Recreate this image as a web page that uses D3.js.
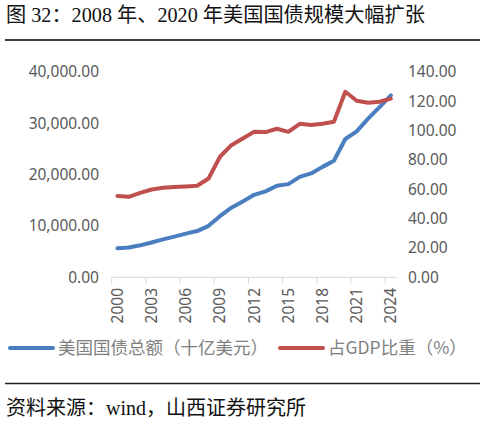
<!DOCTYPE html>
<html>
<head>
<meta charset="utf-8">
<script src="https://cdn.jsdelivr.net/npm/d3@7"></script>
<style>
  body { margin: 0; background: #fff; }
  svg { display: block; }
</style>
</head>
<body>
<div id="chart"></div>
<script>
const width = 485;
const height = 425;

// data
const years = d3.range(2000, 2025);
const debtTotal = [5674, 5807, 6228, 6783, 7379, 7933, 8507, 9008, 10025, 11910,
  13562, 14790, 16066, 16738, 17824, 18151, 19573, 20245, 21516, 22719,
  26945, 28428, 30928, 33167, 35464];
const debtToGdp = [55.5, 54.9, 57.6, 59.9, 61.0, 61.5, 61.9, 62.4, 67.4, 82.2,
  90.1, 94.7, 99.2, 99.0, 101.3, 99.2, 104.7, 103.8, 104.7, 106.1,
  126.5, 120.4, 119.0, 119.7, 121.8];
const leftTicks = [0, 10000, 20000, 30000, 40000];
const rightTicks = [0, 20, 40, 60, 80, 100, 120, 140];
const tickYears = [2000, 2003, 2006, 2009, 2012, 2015, 2018, 2021, 2024];
const seriesNames = ["美国国债总额（十亿美元）", "占GDP比重（%）"];

const blue = "#4A7EC0";
const red = "#C0504D";
const labelColor = "#595959";
const serif = "'Liberation Serif', 'Noto Sans CJK SC', serif";
const sans = "'Noto Sans', 'Noto Sans CJK SC', sans-serif";
const cjk = "'Noto Sans CJK SC', sans-serif";

const svg = d3.select("#chart")
  .append("svg")
  .attr("width", width)
  .attr("height", height);

// title + rule
svg.append("text")
  .attr("x", 6)
  .attr("y", 22)
  .attr("font-family", serif)
  .attr("font-size", 20.2)
  .attr("fill", "#111")
  .text("图 32：2008 年、2020 年美国国债规模大幅扩张");

svg.append("line")
  .attr("x1", 5).attr("x2", 480)
  .attr("y1", 40).attr("y2", 40)
  .attr("stroke", "#404040")
  .attr("stroke-width", 2);

const x = d3.scaleBand()
  .domain(years)
  .range([111.7, 396.6]);

const yLeft = d3.scaleLinear()
  .domain([0, 40000])
  .range([277.3, 72]);

const yRight = d3.scaleLinear()
  .domain([0, 140])
  .range([277.3, 72]);

const fmtLeft = d3.format(",.2f");
const fmtRight = d3.format(".2f");

// left axis labels
svg.append("g")
  .selectAll("text")
  .data(leftTicks)
  .enter()
  .append("text")
  .attr("x", 99)
  .attr("y", d => yLeft(d))
  .attr("dy", "0.35em")
  .attr("text-anchor", "end")
  .attr("font-family", sans)
  .attr("font-size", 15.5)
  .attr("fill", labelColor)
  .text(d => fmtLeft(d));

// right axis labels
svg.append("g")
  .selectAll("text")
  .data(rightTicks)
  .enter()
  .append("text")
  .attr("x", 408)
  .attr("y", d => yRight(d))
  .attr("dy", "0.35em")
  .attr("text-anchor", "start")
  .attr("font-family", sans)
  .attr("font-size", 15.5)
  .attr("fill", labelColor)
  .text(d => fmtRight(d));

// x axis
const xAxis = svg.append("g");
xAxis.append("line")
  .attr("x1", x.range()[0]).attr("x2", x.range()[1])
  .attr("y1", 277.3).attr("y2", 277.3)
  .attr("stroke", "#d9d9d9")
  .attr("stroke-width", 1);

xAxis.selectAll(".tick")
  .data(tickYears)
  .enter()
  .append("line")
  .attr("x1", d => x(d)).attr("x2", d => x(d))
  .attr("y1", 277.3).attr("y2", 284)
  .attr("stroke", "#d9d9d9")
  .attr("stroke-width", 1);

xAxis.selectAll(".lbl")
  .data(tickYears)
  .enter()
  .append("text")
  .attr("transform", d => `translate(${x(d) + x.bandwidth() / 2}, 288) rotate(-90)`)
  .attr("dy", "0.35em")
  .attr("text-anchor", "end")
  .attr("font-family", sans)
  .attr("font-size", 15.5)
  .attr("fill", labelColor)
  .text(d => d);

// lines
const cx = (d, i) => x(years[i]) + x.bandwidth() / 2;

const lineLeft = d3.line()
  .x(cx)
  .y(d => yLeft(d));

const lineRight = d3.line()
  .x(cx)
  .y(d => yRight(d));

svg.append("path")
  .datum(debtTotal)
  .attr("d", lineLeft)
  .attr("fill", "none")
  .attr("stroke", blue)
  .attr("stroke-width", 4)
  .attr("stroke-linejoin", "round")
  .attr("stroke-linecap", "round");

svg.append("path")
  .datum(debtToGdp)
  .attr("d", lineRight)
  .attr("fill", "none")
  .attr("stroke", red)
  .attr("stroke-width", 4)
  .attr("stroke-linejoin", "round")
  .attr("stroke-linecap", "round");

// legend
const legend = [
  { name: seriesNames[0], color: blue, x: 10 },
  { name: seriesNames[1], color: red, x: 280 }
];
const lg = svg.append("g").selectAll("g")
  .data(legend)
  .enter()
  .append("g")
  .attr("transform", d => `translate(${d.x}, 348)`);

lg.append("line")
  .attr("x1", 0).attr("x2", 43)
  .attr("y1", 0).attr("y2", 0)
  .attr("stroke", d => d.color)
  .attr("stroke-width", 4)
  .attr("stroke-linecap", "round");

lg.append("text")
  .attr("x", 48)
  .attr("y", 0)
  .attr("dy", "0.35em")
  .attr("font-family", cjk)
  .attr("font-size", 17.5)
  .attr("fill", "#7f7f7f")
  .text(d => d.name);

// source
svg.append("line")
  .attr("x1", 5).attr("x2", 480)
  .attr("y1", 383.5).attr("y2", 383.5)
  .attr("stroke", "#202020")
  .attr("stroke-width", 1.5);

svg.append("text")
  .attr("x", 6)
  .attr("y", 415)
  .attr("font-family", serif)
  .attr("font-size", 20)
  .attr("fill", "#111")
  .text("资料来源：wind，山西证券研究所");
</script>
</body>
</html>
